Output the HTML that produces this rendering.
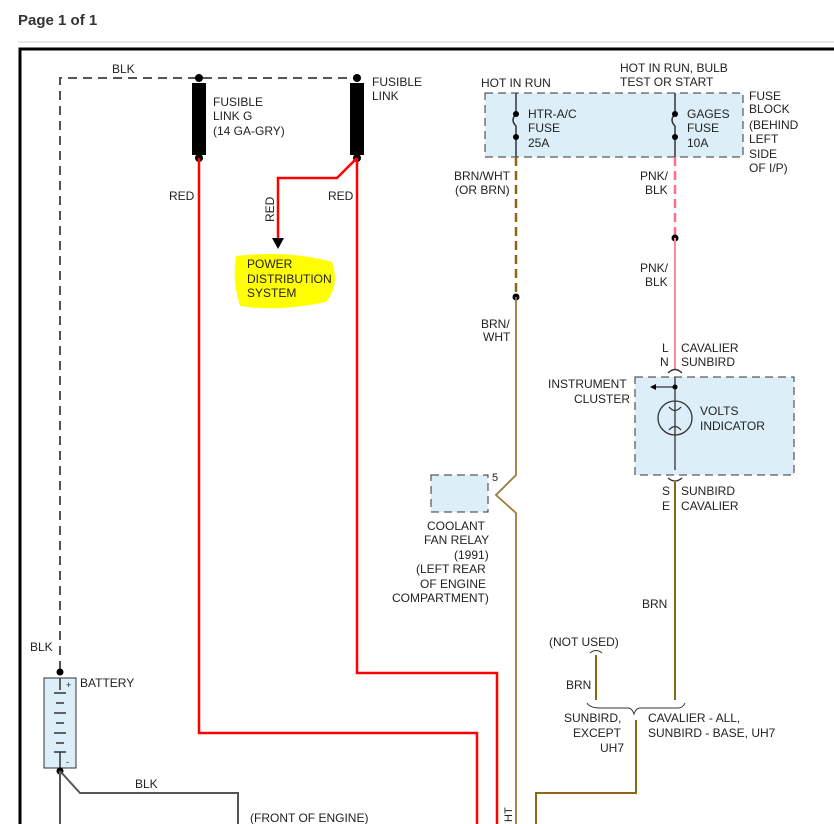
<!DOCTYPE html>
<html><head><style>
html,body{margin:0;padding:0;background:#fff;}
svg{display:block;}
text{font-family:"Liberation Sans",sans-serif;font-size:12px;fill:#222;}
</style></head><body>
<svg width="834" height="824" viewBox="0 0 834 824" xmlns="http://www.w3.org/2000/svg">
<text x="18" y="25" style="font-size:15px;font-weight:bold;fill:#333">Page 1 of 1</text>
<line x1="18" y1="42" x2="834" y2="42" stroke="#ccc" stroke-width="1"/>
<!-- frame -->
<rect x="20" y="49" width="830" height="780" fill="#fff" stroke="#000" stroke-width="3"/>
<!-- highlight -->
<path d="M236 256 Q290 250 332 262 Q340 285 326 302 Q280 312 240 306 Q232 282 236 256Z" fill="#ffff00"/>
<!-- fuse block -->
<rect x="485" y="93" width="258" height="64" fill="#dceef7" stroke="#333" stroke-dasharray="8,5"/>
<!-- instrument cluster -->
<rect x="635" y="377" width="159" height="98" fill="#dceef7" stroke="#333" stroke-dasharray="8,5"/>
<!-- coolant relay -->
<rect x="431" y="475" width="57" height="37" fill="#dceef7" stroke="#333" stroke-dasharray="8,5"/>
<!-- battery -->
<rect x="44" y="678" width="32" height="90" fill="#dceef7" stroke="#333"/>
<g stroke="#333" stroke-width="1.5">
<line x1="60" y1="678" x2="60" y2="690"/>
<line x1="54" y1="693" x2="66" y2="693"/><line x1="56" y1="703" x2="64" y2="703"/>
<line x1="54" y1="713" x2="66" y2="713"/><line x1="56" y1="723" x2="64" y2="723"/>
<line x1="54" y1="733" x2="66" y2="733"/><line x1="56" y1="743" x2="64" y2="743"/>
<line x1="60" y1="752" x2="60" y2="768"/><line x1="54" y1="752" x2="66" y2="752"/>
</g>
<text x="66" y="688" style="font-size:9px">+</text><text x="66" y="765" style="font-size:9px">-</text>
<text x="80" y="687">BATTERY</text>
<!-- BLK dashed -->
<path d="M60 670 L60 78 L358 78" fill="none" stroke="#555" stroke-width="2" stroke-dasharray="9,6"/>
<text x="112" y="73">BLK</text>
<text x="30" y="651">BLK</text>
<circle cx="60" cy="672" r="3.5" fill="#000"/><circle cx="60" cy="771" r="3.5" fill="#000"/>
<path d="M60 771 L60 824 M60 771 L80 793 L238 793 L238 824" fill="none" stroke="#555" stroke-width="2"/>
<text x="135" y="788">BLK</text>
<text x="250" y="822">(FRONT OF ENGINE)</text>
<!-- fusible links -->
<rect x="192" y="83" width="14" height="72" fill="#000"/>
<rect x="350" y="83" width="14" height="72" fill="#000"/>
<circle cx="199" cy="78" r="4" fill="#000"/><circle cx="199" cy="158" r="4" fill="#000"/>
<circle cx="357" cy="78" r="4" fill="#000"/><circle cx="357" cy="158" r="4" fill="#000"/>
<text x="213" y="106">FUSIBLE</text><text x="213" y="120">LINK G</text><text x="213" y="135">(14 GA-GRY)</text>
<text x="372" y="86">FUSIBLE</text><text x="372" y="100">LINK</text>
<!-- red wires -->
<g fill="none" stroke="#f00" stroke-width="2.5">
<path d="M199 158 L199 733 L477 733 L477 824"/>
<path d="M357 158 L357 673 L497 673 L497 824"/>
<path d="M357 158 L337 178 L278 178 L278 240"/>
</g>
<polygon points="272,238 284,238 278,249" fill="#000"/>
<text x="169" y="200">RED</text><text x="328" y="200">RED</text>
<text transform="translate(274,222) rotate(-90)">RED</text>
<text x="247" y="268">POWER</text><text x="247" y="283">DISTRIBUTION</text><text x="247" y="297">SYSTEM</text>
<!-- fuses -->
<g stroke="#333" stroke-width="1.5" fill="none">
<path d="M516 93 L516 114 Q510 120 516 126 L516 157"/>
<path d="M675 93 L675 114 Q669 120 675 126 L675 157"/>
</g>
<circle cx="516" cy="114" r="3" fill="#000"/><circle cx="516" cy="137" r="3" fill="#000"/>
<circle cx="675" cy="114" r="3" fill="#000"/><circle cx="675" cy="137" r="3" fill="#000"/>
<text x="481" y="87">HOT IN RUN</text>
<text x="620" y="72">HOT IN RUN, BULB</text><text x="620" y="86">TEST OR START</text>
<text x="528" y="118">HTR-A/C</text><text x="528" y="132">FUSE</text><text x="528" y="147">25A</text>
<text x="687" y="118">GAGES</text><text x="687" y="132">FUSE</text><text x="687" y="147">10A</text>
<text x="749" y="100">FUSE</text><text x="749" y="113">BLOCK</text><text x="749" y="129">(BEHIND</text><text x="749" y="143">LEFT</text><text x="749" y="158">SIDE</text><text x="749" y="172">OF I/P)</text>
<!-- brown wire -->
<line x1="516" y1="157" x2="516" y2="297" stroke="#8b6914" stroke-width="2.5" stroke-dasharray="9,5"/>
<circle cx="516" cy="297" r="3.5" fill="#000"/>
<path d="M516 297 L516 475 L496 495 L516 513 L516 824" fill="none" stroke="#9b7a3a" stroke-width="1.8"/>
<text x="454" y="180">BRN/WHT</text><text x="455" y="194">(OR BRN)</text>
<text x="481" y="328">BRN/</text><text x="483" y="341">WHT</text>
<text x="492" y="481" style="font-size:11px">5</text>
<text x="427" y="530">COOLANT</text><text x="424" y="544">FAN RELAY</text><text x="454" y="559">(1991)</text>
<text x="416" y="573">(LEFT REAR</text><text x="420" y="588">OF ENGINE</text><text x="392" y="602">COMPARTMENT)</text>
<text transform="translate(512,822) rotate(-90)" style="font-size:11px">HT</text>
<!-- pink wire -->
<line x1="675" y1="157" x2="675" y2="237" stroke="#ff6f8a" stroke-width="2.5" stroke-dasharray="9,5"/>
<circle cx="675" cy="238" r="3.5" fill="#000"/>
<line x1="675" y1="238" x2="675" y2="370" stroke="#ff8aa0" stroke-width="2"/>
<text x="640" y="180">PNK/</text><text x="645" y="194">BLK</text>
<text x="640" y="272">PNK/</text><text x="645" y="286">BLK</text>
<text x="662" y="352">L</text><text x="660" y="366">N</text>
<text x="681" y="352">CAVALIER</text><text x="681" y="366">SUNBIRD</text>
<!-- cluster internals -->
<g stroke="#333" stroke-width="1.3" fill="none">
<path d="M668 373 Q675 366 682 373"/>
<line x1="675" y1="377" x2="675" y2="470"/>
<line x1="675" y1="387" x2="652" y2="387"/>
<circle cx="675" cy="418" r="17"/>
<path d="M669 407 Q675 414 681 407 M669 430 Q675 423 681 430"/>
<path d="M668 478 Q675 484 682 478"/>
</g>
<polygon points="650,387 656,384 656,390" fill="#000"/>
<circle cx="675" cy="387" r="2.5" fill="#000"/>
<text x="548" y="388">INSTRUMENT</text><text x="574" y="403">CLUSTER</text>
<text x="700" y="415">VOLTS</text><text x="700" y="430">INDICATOR</text>
<text x="662" y="495">S</text><text x="662" y="510">E</text>
<text x="681" y="495">SUNBIRD</text><text x="681" y="510">CAVALIER</text>
<!-- lower brown -->
<g fill="none" stroke="#8b6914" stroke-width="2">
<line x1="675" y1="482" x2="675" y2="700"/>
<line x1="596" y1="655" x2="596" y2="700"/>
<path d="M636 720 L636 793 L536 793 L536 824"/>
</g>
<path d="M590 653 Q596 648 602 653" stroke="#333" fill="none"/>
<path d="M587 703 Q590 708 600 708 L628 708 Q632 708 634 714 Q636 708 640 708 L678 708 Q683 708 685 703" stroke="#333" fill="none"/>
<text x="642" y="608">BRN</text>
<text x="549" y="646">(NOT USED)</text>
<text x="566" y="689">BRN</text>
<text x="564" y="722">SUNBIRD,</text><text x="573" y="737">EXCEPT</text><text x="600" y="752">UH7</text>
<text x="648" y="722">CAVALIER - ALL,</text><text x="648" y="737">SUNBIRD - BASE, UH7</text>
</svg>
</body></html>
